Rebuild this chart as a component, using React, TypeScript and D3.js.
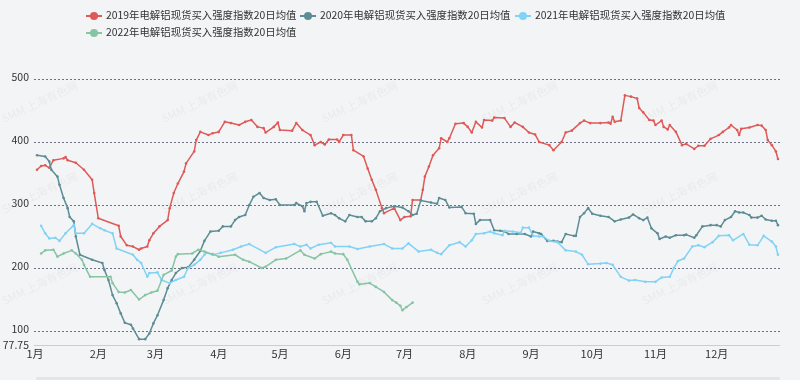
import React from "react";
import * as d3 from "d3";

// ---------- data ----------
const seriesNames = [
  "2019年电解铝现货买入强度指数20日均值",
  "2020年电解铝现货买入强度指数20日均值",
  "2021年电解铝现货买入强度指数20日均值",
  "2022年电解铝现货买入强度指数20日均值",
];
const monthLabels = ["1月", "2月", "3月", "4月", "5月", "6月", "7月", "8月", "9月", "10月", "11月", "12月"];
const yTickValues = [100, 200, 300, 400, 500];
const yMinLabel = 77.75;
const yMaxValue = 500;

// [day of year (0 = Jan 1), value]
const data2019: [number, number][] = [
  [1, 356], [3, 362], [5, 363], [7, 359], [9, 371], [14, 374], [15, 376], [16, 371], [20, 367], [24, 356],
  [28, 340], [29, 319], [31, 279], [41, 267], [42, 250], [45, 236], [48, 234], [51, 229], [52, 231], [55, 234],
  [56, 244], [58, 255], [61, 266], [65, 276], [66, 295], [68, 319], [70, 334], [73, 353], [74, 366], [78, 385],
  [79, 403], [81, 416], [85, 411], [87, 414], [90, 416], [93, 432], [96, 430], [100, 427], [103, 432], [106, 435],
  [109, 424], [112, 422], [113, 415], [117, 424], [119, 431], [120, 419], [126, 418], [128, 430], [131, 419], [135, 411],
  [137, 395], [140, 400], [142, 396], [144, 404], [148, 404], [149, 400], [151, 411], [155, 411], [156, 387], [161, 377],
  [163, 358], [165, 340], [167, 324], [170, 295], [171, 287], [176, 295], [179, 276], [181, 281], [184, 282], [185, 308],
  [189, 308], [190, 324], [191, 345], [193, 361], [195, 379], [198, 390], [199, 406], [202, 400], [203, 406], [206, 429],
  [210, 430], [212, 424], [214, 415], [216, 432], [219, 423], [220, 435], [224, 434], [225, 439], [230, 438], [233, 424],
  [235, 431], [239, 424], [242, 415], [245, 412], [247, 400], [252, 395], [254, 387], [258, 400], [260, 415], [263, 418],
  [267, 430], [269, 434], [272, 430], [277, 430], [281, 431], [282, 429], [283, 440], [284, 432], [287, 434], [289, 474],
  [292, 472], [295, 469], [296, 454], [298, 447], [301, 435], [303, 434], [304, 427], [307, 434], [308, 424], [310, 420],
  [311, 427], [314, 416], [317, 395], [319, 397], [323, 389], [325, 394], [328, 394], [331, 405], [335, 411], [337, 416],
  [340, 423], [341, 427], [344, 419], [345, 411], [346, 421], [350, 423], [354, 427], [356, 426], [358, 419], [359, 403],
  [361, 395], [363, 385], [364, 373],
];

const data2020: [number, number][] = [
  [1, 379], [5, 377], [7, 369], [8, 356], [11, 345], [12, 332], [14, 311], [16, 295], [17, 281], [19, 274],
  [20, 250], [22, 221], [28, 213], [33, 208], [34, 197], [36, 181], [38, 157], [40, 144], [42, 128], [44, 113],
  [47, 110], [48, 104], [51, 87], [54, 87], [56, 96], [58, 112], [60, 125], [63, 149], [65, 168], [67, 181],
  [69, 192], [72, 200], [75, 201], [78, 213], [81, 227], [83, 243], [86, 258], [90, 259], [92, 266], [96, 266],
  [98, 276], [100, 281], [103, 284], [105, 300], [107, 313], [110, 319], [112, 311], [115, 308], [118, 309], [120, 300],
  [127, 300], [128, 303], [131, 298], [132, 290], [133, 303], [135, 305], [138, 305], [141, 283], [145, 287], [147, 284],
  [149, 279], [152, 274], [154, 284], [158, 281], [160, 281], [162, 274], [165, 274], [167, 279], [169, 290], [172, 295],
  [176, 298], [180, 296], [183, 290], [185, 284], [187, 286], [189, 307], [194, 304], [197, 302], [198, 311], [201, 308],
  [203, 296], [209, 297], [211, 287], [215, 286], [216, 270], [218, 276], [223, 276], [225, 260], [228, 259], [230, 258],
  [232, 254], [236, 254], [240, 254], [243, 250], [244, 258], [247, 255], [248, 254], [251, 243], [254, 243], [256, 242],
  [258, 241], [260, 254], [264, 251], [265, 251], [267, 281], [269, 287], [271, 295], [273, 286], [277, 283], [281, 281],
  [284, 274], [287, 277], [291, 280], [293, 285], [296, 279], [298, 276], [300, 280], [302, 263], [305, 255], [306, 246],
  [309, 250], [311, 248], [314, 252], [318, 252], [319, 253], [323, 248], [324, 252], [327, 266], [331, 268], [334, 268],
  [336, 266], [338, 276], [341, 281], [343, 290], [345, 288], [347, 288], [350, 284], [351, 280], [354, 280], [356, 283],
  [358, 277], [361, 275], [363, 275], [364, 268],
];

const data2021: [number, number][] = [
  [3, 267], [5, 255], [7, 247], [10, 248], [12, 243], [15, 255], [19, 268], [20, 255], [24, 255], [28, 270],
  [32, 263], [34, 260], [38, 255], [40, 231], [48, 221], [50, 213], [52, 208], [55, 186], [56, 192], [60, 193],
  [62, 181], [66, 176], [69, 181], [73, 186], [75, 200], [78, 205], [81, 213], [83, 221], [84, 224], [87, 221],
  [91, 224], [97, 229], [101, 234], [105, 238], [113, 224], [118, 233], [127, 238], [130, 234], [133, 237], [135, 231],
  [139, 237], [145, 240], [147, 234], [154, 234], [158, 230], [164, 234], [171, 238], [175, 231], [180, 231], [183, 239],
  [188, 226], [194, 229], [197, 224], [199, 222], [203, 236], [208, 241], [211, 234], [214, 244], [216, 254], [220, 255],
  [223, 258], [225, 255], [229, 252], [230, 259], [234, 258], [238, 256], [239, 264], [242, 264], [244, 251], [247, 250],
  [249, 250], [252, 243], [256, 241], [260, 228], [265, 226], [268, 221], [271, 206], [277, 207], [280, 208], [283, 205],
  [287, 186], [291, 180], [294, 181], [299, 178], [304, 178], [307, 185], [311, 186], [313, 200], [315, 211], [318, 215],
  [322, 234], [325, 236], [328, 233], [332, 241], [335, 251], [340, 252], [342, 244], [347, 254], [350, 237], [354, 236],
  [357, 251], [361, 242], [363, 234], [364, 221],
];

const data2022: [number, number][] = [
  [3, 223], [5, 228], [9, 229], [11, 218], [14, 223], [18, 228], [20, 223], [23, 213], [24, 205], [27, 186],
  [37, 186], [38, 176], [41, 162], [44, 161], [47, 165], [51, 150], [54, 157], [57, 161], [60, 164], [63, 189],
  [67, 196], [69, 218], [70, 222], [77, 223], [80, 229], [83, 226], [87, 222], [90, 218], [98, 221], [102, 213],
  [105, 210], [111, 200], [113, 202], [118, 213], [123, 215], [130, 228], [132, 221], [137, 215], [140, 222], [145, 226],
  [147, 223], [151, 222], [153, 213], [158, 178], [159, 174], [164, 176], [167, 170], [171, 162], [175, 149], [177, 145],
  [179, 140], [180, 133], [182, 138], [185, 145],
];

const allSeries = [data2019, data2020, data2021, data2022];
const colors = ["#de5a58", "#5c8d94", "#80d2f6", "#86c4a4"];

// ---------- layout ----------
const W = 800;
const H = 380;
const plotLeft = 35;
const plotRight = 780;
const plotTop = 79;
const plotBottom = 345;
const FONT = "'Noto Sans CJK SC', 'Noto Sans', sans-serif";

const base = new Date(2021, 0, 1);
const dayToDate = (d: number) => d3.timeDay.offset(base, d);

export default function App() {
  const x = d3.scaleTime().domain([base, new Date(2022, 0, 1)]).range([plotLeft, plotRight]);
  const y = d3.scaleLinear().domain([yMinLabel, yMaxValue]).range([plotBottom, plotTop]);

  const line = d3
    .line<[number, number]>()
    .x((d) => x(dayToDate(d[0])))
    .y((d) => y(d[1]));

  const months = d3.timeMonth.range(base, new Date(2022, 0, 1));

  // watermark grid (only the ones fully inside the picture)
  const marks: { cx: number; cy: number }[] = [];
  for (let r = 1; r < 4; r++) {
    for (let c = 0; c < 5; c++) {
      marks.push({ cx: 40 + c * 160, cy: 12 + r * 91 });
    }
  }

  const legendItems = [
    { x: 86, y: 16 },
    { x: 300, y: 16 },
    { x: 515, y: 16 },
    { x: 86, y: 33 },
  ];

  return (
    <svg
      width={W}
      height={H}
      style={{ position: "fixed", left: 0, top: 0, display: "block" }}
      fontFamily={FONT}
    >
      <rect x={0} y={0} width={W} height={H} fill="#f3f4f6" />

      {/* watermarks */}
      <g fill="#000" opacity={0.045} fontSize={11}>
        {marks.map((m, i) => (
          <text
            key={i}
            x={m.cx}
            y={m.cy}
            textAnchor="middle"
            dominantBaseline="middle"
            transform={`rotate(-25 ${m.cx} ${m.cy})`}
          >
            SMM 上海有色网
          </text>
        ))}
      </g>

      {/* grid lines */}
      {yTickValues.map((v) => (
        <line
          key={v}
          x1={plotLeft - 1}
          x2={plotRight}
          y1={Math.round(y(v)) + 0.5}
          y2={Math.round(y(v)) + 0.5}
          stroke="#6f7088"
          strokeWidth={1}
          strokeDasharray="2,2"
        />
      ))}
      <line x1={plotLeft - 1} x2={plotRight} y1={plotBottom + 0.5} y2={plotBottom + 0.5} stroke="#c9cdd8" strokeWidth={1} />

      {/* y labels */}
      <g fontSize={10.5} fill="#333" textAnchor="end">
        {yTickValues.map((v) => (
          <text key={v} x={29} y={y(v) - 1} dominantBaseline="middle">
            {v}
          </text>
        ))}
        <text x={29} y={y(yMinLabel) + 1} dominantBaseline="middle">
          {yMinLabel}
        </text>
      </g>

      {/* x labels */}
      <g fontSize={11} fill="#333" textAnchor="middle">
        {months.map((m, i) => (
          <text key={i} x={x(m)} y={358}>
            {monthLabels[i]}
          </text>
        ))}
      </g>

      {/* series */}
      {allSeries.map((s, i) => (
        <g key={i}>
          <path d={line(s) || ""} fill="none" stroke={colors[i]} strokeWidth={1.5} strokeLinejoin="round" />
          {s.map((d, j) => (
            <circle key={j} cx={x(dayToDate(d[0]))} cy={y(d[1])} r={1.3} fill={colors[i]} />
          ))}
        </g>
      ))}

      {/* legend */}
      <g fontSize={10.4} fill="#333">
        {legendItems.map((p, i) => (
          <g key={i}>
            <line x1={p.x} x2={p.x + 16} y1={p.y} y2={p.y} stroke={colors[i]} strokeWidth={2} />
            <circle cx={p.x + 8} cy={p.y} r={4} fill={colors[i]} />
            <text x={p.x + 20} y={p.y} dominantBaseline="middle">
              {seriesNames[i]}
            </text>
          </g>
        ))}
      </g>

      {/* bottom slider band */}
      <rect x={36} y={377} width={744} height={6} rx={2} fill="#e3e5e9" />
    </svg>
  );
}
